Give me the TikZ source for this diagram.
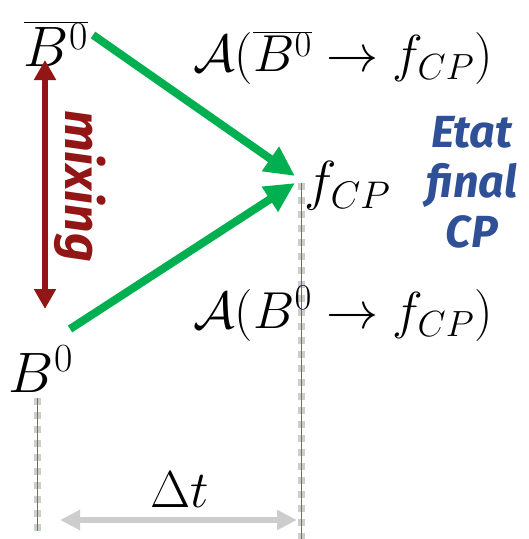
\RequirePackage{fix-cm}
\documentclass[tikz,border=0pt]{standalone}
\usepackage{fontspec}
\usetikzlibrary{arrows.meta}
\newfontfamily\handfont{Fira Sans}
\definecolor{mixred}{RGB}{146,22,22}
\definecolor{arrgreen}{RGB}{0,176,80}
\definecolor{cpblue}{RGB}{47,80,150}
\definecolor{dashgray}{RGB}{205,205,205}
\definecolor{thinblue}{RGB}{68,114,196}
\tikzset{
  mathlbl/.style={inner sep=0pt, font=\fontsize{52}{62}\selectfont},
  biglbl/.style={inner sep=0pt, font=\fontsize{57}{66}\selectfont},
  greenarr/.style={line width=8pt, color=arrgreen, -{Triangle[length=30pt,width=28pt]}},
  timeline/.style={line width=7pt, color=dashgray, dash pattern=on 7pt off 7pt},
  thinline/.style={line width=0.7pt, color=thinblue},
}
\begin{document}
\begin{tikzpicture}[x=1pt,y=-1pt]
\useasboundingbox (0,0) rectangle (529,539);
% time lines
\coordinate (tlL1) at (37,398);
\coordinate (tlL2) at (37,531);
\coordinate (tlR1) at (301,183);
\coordinate (tlR2) at (301,539);
\draw[timeline] (tlL1) -- (tlL2);
\draw[thinline] (tlL1) -- (tlL2);
\draw[timeline] (tlR1) -- (tlR2);
\draw[thinline] (tlR1) -- (tlR2);
% labels
\node[biglbl] (Bbar) at (56,44) {$\overline{B^0}$};
\node[biglbl] (B) at (41,369) {$B^0$};
\node[inner sep=0pt, font=\fontsize{55}{64}\selectfont, anchor=west] (f) at (304,186) {$f_{CP}$};
\node[mathlbl] (Abar) at (343,58) {$\mathcal{A}(\overline{B^0}\to f_{CP})$};
\node[mathlbl] (A) at (343,314) {$\mathcal{A}(B^0\to f_{CP})$};
\node[mathlbl] (dt) at (180,490) {$\Delta t$};
% green arrows
\coordinate (g1s) at (93,35);
\coordinate (g1e) at (295,176);
\coordinate (g2s) at (70,329);
\coordinate (g2e) at (295,183);
\draw[greenarr] (g1s) -- (g1e);
\draw[greenarr] (g2s) -- (g2e);
% mixing arrow
\coordinate (m1) at (45,60);
\coordinate (m2) at (45,309);
\draw[line width=6pt, color=mixred, {Triangle[length=20pt,width=21pt]}-{Triangle[length=20pt,width=21pt]}] (m1) -- (m2);
\node[rotate=-90, text=mixred, font=\handfont\bfseries\itshape\fontsize{50}{56}\selectfont, inner sep=0pt] (mix) at (80,186) {mixing};
% Delta t arrow
\coordinate (d1) at (60,520);
\coordinate (d2) at (297,520);
\draw[line width=6pt, color=dashgray, {Triangle[length=20pt,width=19pt]}-{Triangle[length=20pt,width=19pt]}] (d1) -- (d2);
% Etat final CP
\node[text=cpblue, font=\handfont\bfseries\itshape\fontsize{45}{50}\selectfont, align=center, inner sep=0pt] (etat) at (472,182) {Etat\\final\\CP};
\end{tikzpicture}
\end{document}
